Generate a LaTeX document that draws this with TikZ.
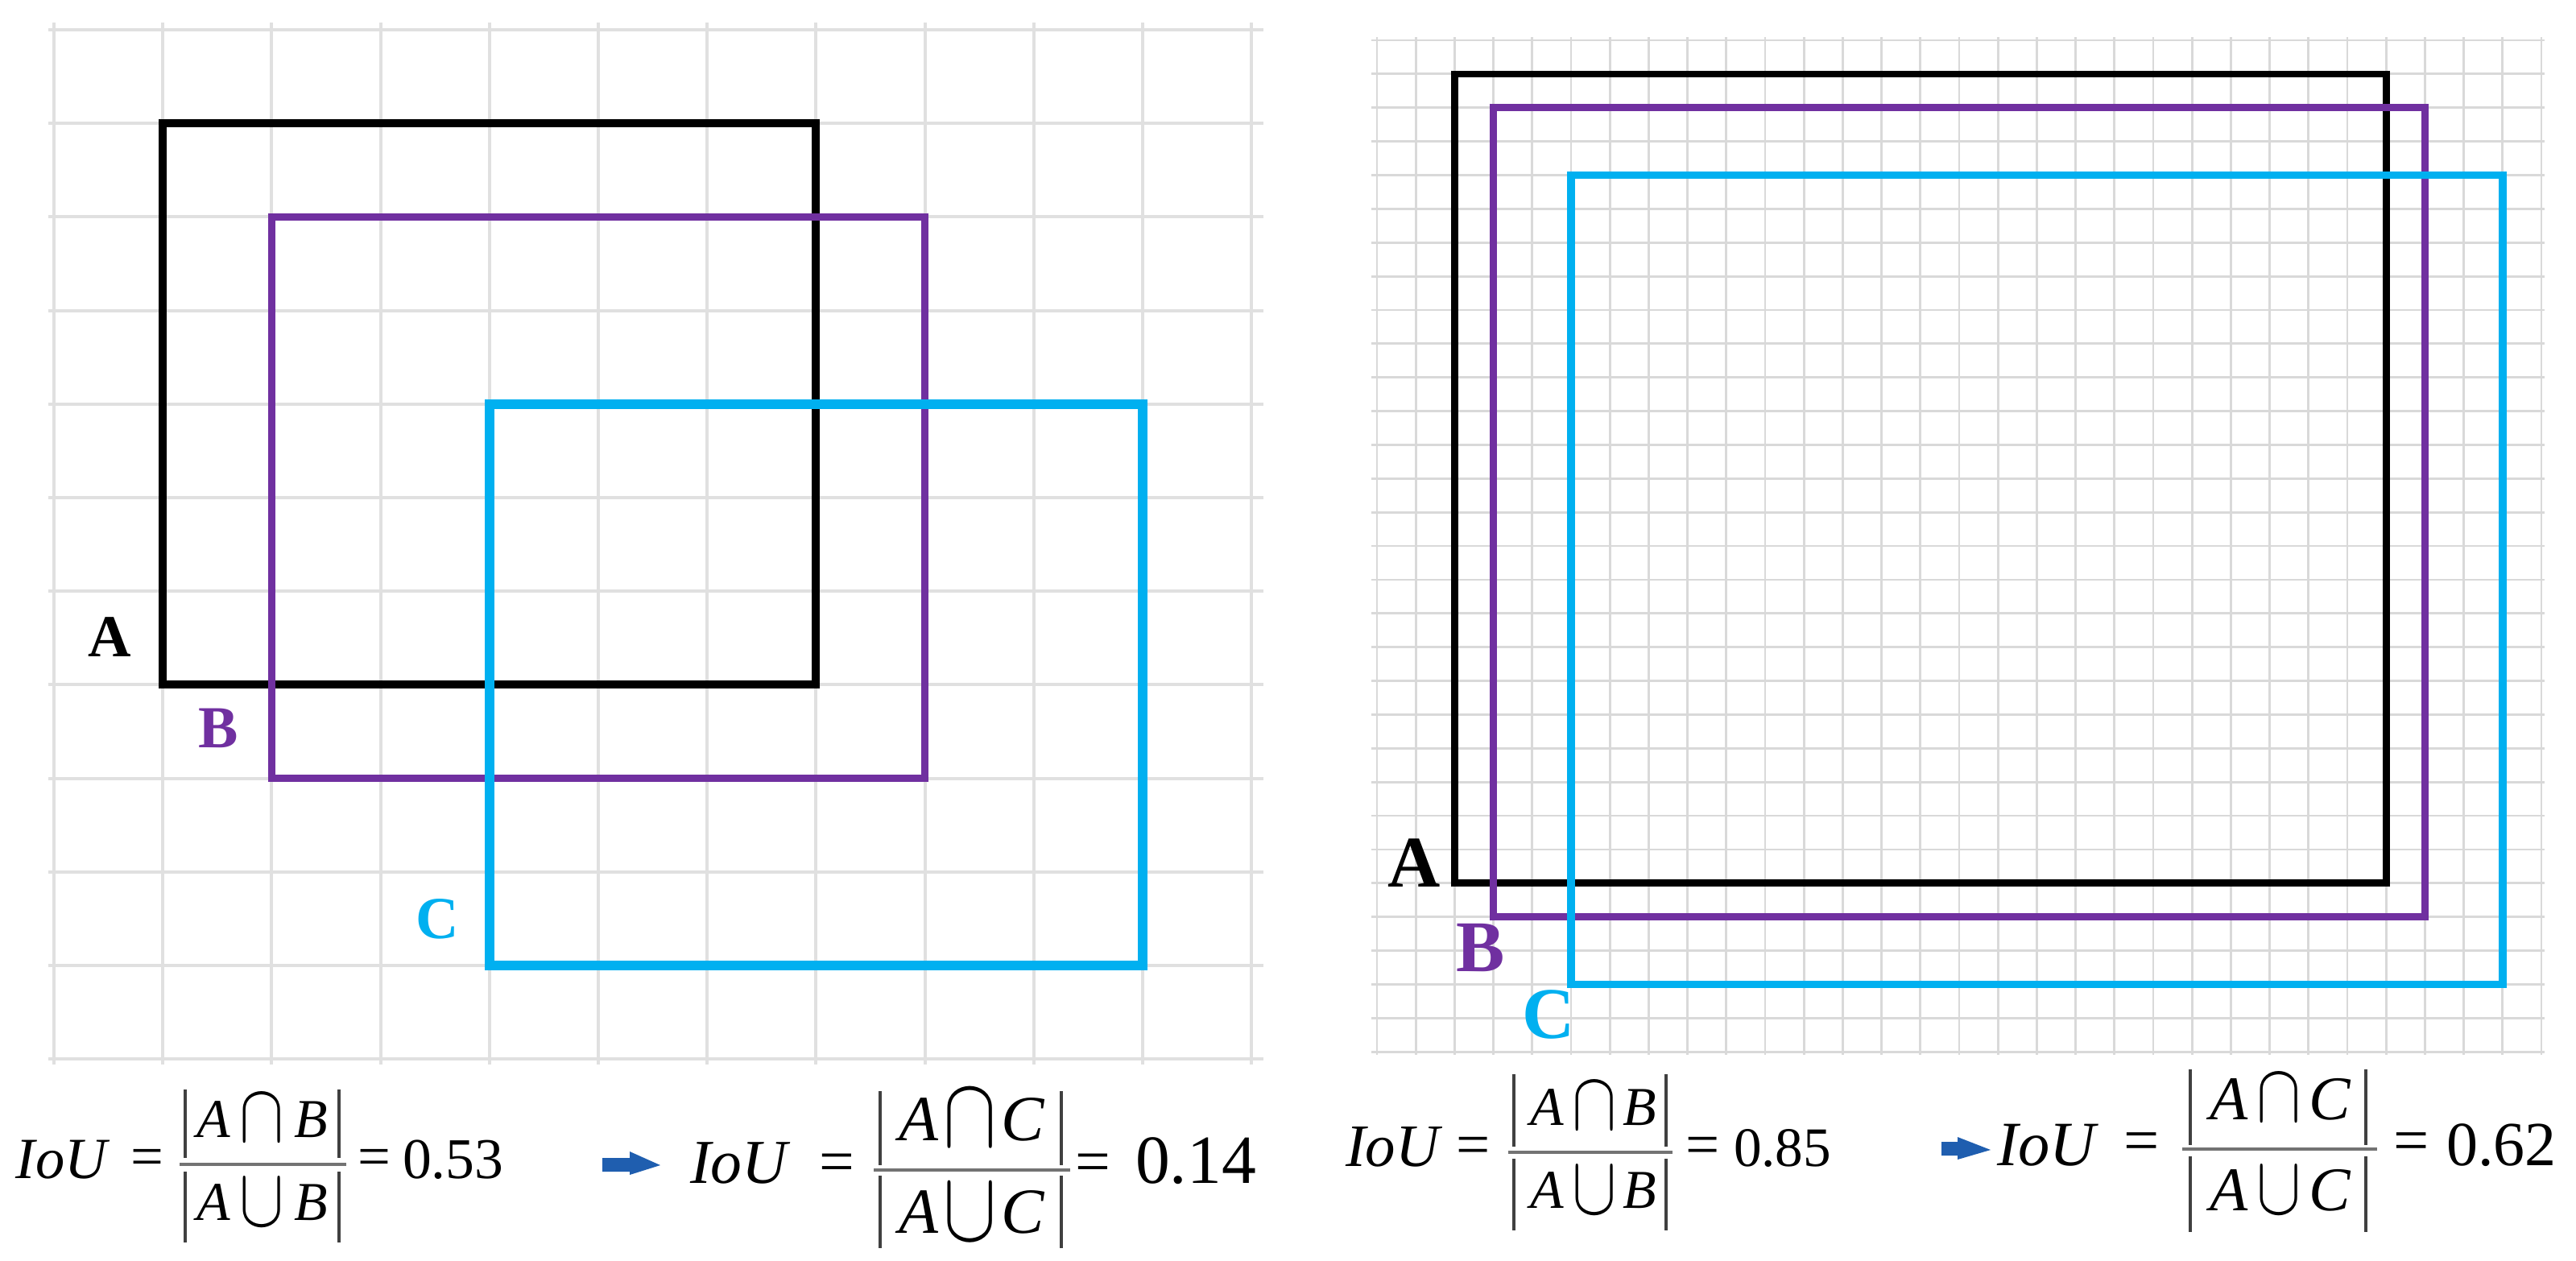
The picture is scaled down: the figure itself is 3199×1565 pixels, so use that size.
\documentclass[tikz,border=0pt]{standalone}
\usepackage{fontspec}
\usepackage{graphicx}
\setmainfont{Liberation Serif}
\newcommand\sfont[1]{\fontsize{#1}{#1}\selectfont}
\newcommand\capx[1]{\scalebox{1}[1.25]{$#1$}}
\definecolor{bpurple}{HTML}{7030A0}
\definecolor{bcyan}{HTML}{00B0F0}
\definecolor{arrblue}{RGB}{31,94,175}
\begin{document}
\begin{tikzpicture}[x=0.25pt,y=-0.25pt,
  gridL/.style={draw=black!12,line width=1pt},
  gridR/.style={draw=black!15,line width=0.7pt},
  boxA/.style={draw=black,line width=2.5pt},
  boxB/.style={draw=bpurple,line width=2.4pt},
  boxC/.style={draw=bcyan,line width=2.9pt},
  rboxA/.style={draw=black,line width=2.2pt},
  rboxB/.style={draw=bpurple,line width=2.2pt},
  rboxC/.style={draw=bcyan,line width=2.4pt},
  lbl/.style={inner sep=0,outer sep=0,font=\bfseries\sfont{18.5}},
  rlbl/.style={inner sep=0,outer sep=0,font=\bfseries\sfont{22.6}},
  txt/.style={inner sep=0,outer sep=0},
  fbar/.style={draw=black!55,line width=1.1pt},
  abar/.style={draw=black!75,line width=0.85pt},
  arr/.style={fill=arrblue}
]
\useasboundingbox (0,0) rectangle (3199,1565);
\fill[white] (0,0) rectangle (3199,1565);

% ---------- left grid ----------
\foreach \k in {0,...,11} {
  \draw[gridL] ({67+135.2*\k},28) -- ({67+135.2*\k},1322);
  \draw[gridL] (60,{37+116.2*\k}) -- (1569,{37+116.2*\k});
}
% ---------- right grid ----------
\foreach \k in {0,...,30} {
  \draw[gridR] ({1710+48.2*\k},46) -- ({1710+48.2*\k},1310);
  \draw[gridR] (1703,{50+41.87*\k}) -- (3160,{50+41.87*\k});
}

% ---------- left boxes ----------
\draw[boxA] (202.2,153.2) rectangle (1013.4,850.4);
\draw[boxB] (337.4,269.4) rectangle (1148.6,966.6);
\draw[boxC] (607.8,501.8) rectangle (1419,1199);
\node[lbl,text=black]   (lA) at (136,791)  {A};
\node[lbl,text=bpurple] (lB) at (271,904)  {B};
\node[lbl,text=bcyan]   (lC) at (543,1141) {C};

% ---------- right boxes ----------
\draw[rboxA] (1806.4,91.9) rectangle (2963.2,1096.8);
\draw[rboxB] (1854.6,133.7) rectangle (3011.4,1138.6);
\draw[rboxC] (1951,217.5) rectangle (3107.8,1222.4);
\node[rlbl,text=black]   (rA) at (1756,1072) {A};
\node[rlbl,text=bpurple] (rB) at (1839,1177) {B};
\node[rlbl,text=bcyan]   (rC) at (1923,1260) {C};

% ---------- formula 1 ----------
\node[txt,anchor=base west,font=\sfont{18.1}\itshape] (f1iou) at (20,1463) {IoU};
\node[txt,font=\sfont{18.1}] (f1eqa) at (183,1444) {=};
\draw[fbar] (223,1446) -- (430,1446);
\draw[abar] (230,1353) -- (230,1438) (421,1353) -- (421,1438);
\draw[abar] (230,1455) -- (230,1543) (421,1455) -- (421,1543);
\node[txt,anchor=base,font=\sfont{17}\itshape] (f1na) at (265,1412) {A};
\node[txt,font=\sfont{20}] (f1ncap) at (325.5,1389) {\capx{\cap}};
\node[txt,anchor=base,font=\sfont{17}\itshape] (f1nb) at (386.5,1412) {B};
\node[txt,anchor=base,font=\sfont{17}\itshape] (f1da) at (265,1515) {A};
\node[txt,font=\sfont{20}] (f1dcup) at (325.5,1494) {\capx{\cup}};
\node[txt,anchor=base,font=\sfont{17}\itshape] (f1db) at (386.5,1515) {B};
\node[txt,font=\sfont{18.1}] (f1eqb) at (465,1444) {=};
\node[txt,anchor=base west,font=\sfont{17.9}] (f1val) at (500,1463) {0.53};

% arrow 1
\fill[arr] (748,1438) -- (782,1438) -- (782,1430) -- (820,1447) -- (782,1459) -- (782,1455) -- (748,1455) -- cycle;

% ---------- formula 2 ----------
\node[txt,anchor=base west,font=\sfont{19.4}\itshape] (f2iou) at (857,1469) {IoU};
\node[txt,font=\sfont{19.4}] (f2eqa) at (1039,1451) {=};
\draw[fbar] (1085,1453) -- (1329,1453);
\draw[abar] (1093,1355) -- (1093,1447) (1318,1355) -- (1318,1447);
\draw[abar] (1093,1460) -- (1093,1550) (1318,1460) -- (1318,1550);
\node[txt,anchor=base,font=\sfont{20}\itshape] (f2na) at (1141,1416) {A};
\node[txt,font=\sfont{23.4}] (f2ncap) at (1205,1389) {\capx{\cap}};
\node[txt,anchor=base,font=\sfont{20}\itshape] (f2nc) at (1270,1416) {C};
\node[txt,anchor=base,font=\sfont{20}\itshape] (f2da) at (1141,1531) {A};
\node[txt,font=\sfont{23.4}] (f2dcup) at (1205,1506) {\capx{\cup}};
\node[txt,anchor=base,font=\sfont{20}\itshape] (f2dc) at (1270,1531) {C};
\node[txt,font=\sfont{19.4}] (f2eqb) at (1357,1451) {=};
\node[txt,anchor=base west,font=\sfont{21.4}] (f2val) at (1410,1469) {0.14};

% ---------- formula 3 ----------
\node[txt,anchor=base west,font=\sfont{18.7}\itshape] (f3iou) at (1671,1448) {IoU};
\node[txt,font=\sfont{18.7}] (f3eqa) at (1830,1429) {=};
\draw[fbar] (1873,1431) -- (2077,1431);
\draw[abar] (1880,1334) -- (1880,1424) (2069,1334) -- (2069,1424);
\draw[abar] (1880,1439) -- (1880,1528) (2069,1439) -- (2069,1528);
\node[txt,anchor=base,font=\sfont{17}\itshape] (f3na) at (1921,1397) {A};
\node[txt,font=\sfont{20}] (f3ncap) at (1980,1374) {\capx{\cap}};
\node[txt,anchor=base,font=\sfont{17}\itshape] (f3nb) at (2036,1397) {B};
\node[txt,anchor=base,font=\sfont{17}\itshape] (f3da) at (1921,1500) {A};
\node[txt,font=\sfont{20}] (f3dcup) at (1980,1479) {\capx{\cup}};
\node[txt,anchor=base,font=\sfont{17}\itshape] (f3db) at (2036,1500) {B};
\node[txt,font=\sfont{18.7}] (f3eqb) at (2115,1429) {=};
\node[txt,anchor=base west,font=\sfont{17.3}] (f3val) at (2153,1448) {0.85};

% arrow 2
\fill[arr] (2411,1418) -- (2431,1418) -- (2431,1412) -- (2472,1428) -- (2431,1440) -- (2431,1435) -- (2411,1435) -- cycle;

% ---------- formula 4 ----------
\node[txt,anchor=base west,font=\sfont{19.6}\itshape] (f4iou) at (2480,1447) {IoU};
\node[txt,font=\sfont{19.6}] (f4eqa) at (2660,1425) {=};
\draw[fbar] (2710,1427) -- (2952,1427);
\draw[abar] (2720,1328) -- (2720,1422) (2938,1328) -- (2938,1422);
\draw[abar] (2720,1436) -- (2720,1530) (2938,1436) -- (2938,1530);
\node[txt,anchor=base,font=\sfont{19.3}\itshape] (f4na) at (2768,1390) {A};
\node[txt,font=\sfont{22.7}] (f4ncap) at (2830,1364) {\capx{\cap}};
\node[txt,anchor=base,font=\sfont{19.3}\itshape] (f4nc) at (2893,1390) {C};
\node[txt,anchor=base,font=\sfont{19.3}\itshape] (f4da) at (2768,1503) {A};
\node[txt,font=\sfont{22.7}] (f4dcup) at (2830,1479) {\capx{\cup}};
\node[txt,anchor=base,font=\sfont{19.3}\itshape] (f4dc) at (2893,1503) {C};
\node[txt,font=\sfont{19.6}] (f4eqb) at (2995,1425) {=};
\node[txt,anchor=base west,font=\sfont{19.5}] (f4val) at (3038,1447) {0.62};
\end{tikzpicture}
\end{document}
